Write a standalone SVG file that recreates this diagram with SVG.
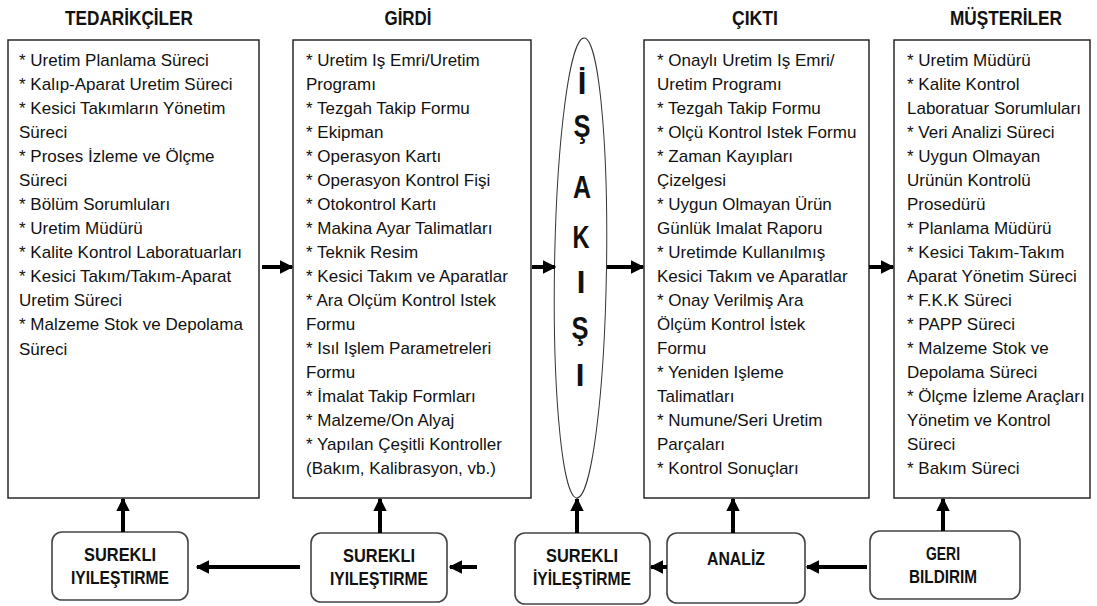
<svg xmlns="http://www.w3.org/2000/svg" width="1097" height="606" viewBox="0 0 1097 606">
  <defs>
    <style>
      .hdr { font-family: "Liberation Sans", Arial, sans-serif; font-weight: bold; font-size: 21px; fill: #111; text-anchor: middle; }
      .box { fill: #fff; stroke: #1a1a1a; stroke-width: 1.4; }
      .item { font-family: "Liberation Sans", Arial, sans-serif; font-size: 17px; fill: #111; }
      .flow { font-family: "Liberation Sans", Arial, sans-serif; font-weight: bold; font-size: 31px; fill: #111; text-anchor: middle; }
      .step { fill: #fff; stroke: #444; stroke-width: 1.6; }
      .stepText { font-family: "Liberation Sans", Arial, sans-serif; font-weight: bold; font-size: 18px; fill: #111; text-anchor: middle; }
      .link { stroke: #000; stroke-width: 4; fill: none; marker-end: url(#head); }
    </style>
    <marker id="head" viewBox="0 0 10 10" refX="9" refY="5" markerWidth="3.4" markerHeight="3.4" orient="auto" markerUnits="strokeWidth">
      <path d="M0,0 L10,5 L0,10 Z" fill="#000"/>
    </marker>
  </defs>

  <rect width="1097" height="606" fill="#fff"/>

  <!-- column headings -->
  <text class="hdr" x="129" y="25" textLength="128" lengthAdjust="spacingAndGlyphs">TEDARİKÇİLER</text>
  <text class="hdr" x="408" y="25" textLength="47" lengthAdjust="spacingAndGlyphs">GİRDİ</text>
  <text class="hdr" x="755" y="25" textLength="46" lengthAdjust="spacingAndGlyphs">ÇIKTI</text>
  <text class="hdr" x="1006" y="25" textLength="112" lengthAdjust="spacingAndGlyphs">MÜŞTERİLER</text>

  <!-- suppliers -->
  <g id="tedarikciler">
    <rect class="box" x="8" y="40" width="251" height="458"/>
    <text class="item">
      <tspan x="19" y="66">* Uretim Planlama Süreci</tspan>
      <tspan x="19" y="90">* Kalıp-Aparat Uretim Süreci</tspan>
      <tspan x="19" y="114">* Kesici Takımların Yönetim</tspan>
      <tspan x="19" y="138">Süreci</tspan>
      <tspan x="19" y="162">* Proses İzleme ve Ölçme</tspan>
      <tspan x="19" y="186">Süreci</tspan>
      <tspan x="19" y="210">* Bölüm Sorumluları</tspan>
      <tspan x="19" y="234">* Uretim Müdürü</tspan>
      <tspan x="19" y="258">* Kalite Kontrol Laboratuarları</tspan>
      <tspan x="19" y="282">* Kesici Takım/Takım-Aparat</tspan>
      <tspan x="19" y="306">Uretim Süreci</tspan>
      <tspan x="19" y="330">* Malzeme Stok ve Depolama</tspan>
      <tspan x="19" y="355">Süreci</tspan>
    </text>
  </g>

  <!-- inputs -->
  <g id="girdi">
    <rect class="box" x="293" y="40" width="238" height="458"/>
    <text class="item">
      <tspan x="306" y="66">* Uretim Iş Emri/Uretim</tspan>
      <tspan x="306" y="90">Programı</tspan>
      <tspan x="306" y="114">* Tezgah Takip Formu</tspan>
      <tspan x="306" y="138">* Ekipman</tspan>
      <tspan x="306" y="162">* Operasyon Kartı</tspan>
      <tspan x="306" y="186">* Operasyon Kontrol Fişi</tspan>
      <tspan x="306" y="210">* Otokontrol Kartı</tspan>
      <tspan x="306" y="234">* Makina Ayar Talimatları</tspan>
      <tspan x="306" y="258">* Teknik Resim</tspan>
      <tspan x="306" y="282">* Kesici Takım ve Aparatlar</tspan>
      <tspan x="306" y="306">* Ara Olçüm Kontrol Istek</tspan>
      <tspan x="306" y="330">Formu</tspan>
      <tspan x="306" y="354">* Isıl Işlem Parametreleri</tspan>
      <tspan x="306" y="378">Formu</tspan>
      <tspan x="306" y="402">* İmalat Takip Formları</tspan>
      <tspan x="306" y="426">* Malzeme/On Alyaj</tspan>
      <tspan x="306" y="450">* Yapılan Çeşitli Kontroller</tspan>
      <tspan x="306" y="474">(Bakım, Kalibrasyon, vb.)</tspan>
    </text>
  </g>

  <!-- work flow -->
  <g id="is-akisi">
    <ellipse cx="580.5" cy="268" rx="26" ry="230" fill="#fff" stroke="#333" stroke-width="1" transform="rotate(0.9 580.5 268)"/>
    <text class="flow" x="582" y="94">İ</text>
    <text class="flow" x="582" y="137" textLength="17" lengthAdjust="spacingAndGlyphs">Ş</text>
    <text class="flow" x="582" y="198" textLength="18" lengthAdjust="spacingAndGlyphs">A</text>
    <text class="flow" x="581" y="248" textLength="17" lengthAdjust="spacingAndGlyphs">K</text>
    <text class="flow" x="581" y="293">I</text>
    <text class="flow" x="580" y="339" textLength="17" lengthAdjust="spacingAndGlyphs">Ş</text>
    <text class="flow" x="580" y="386">I</text>
  </g>

  <!-- outputs -->
  <g id="cikti">
    <rect class="box" x="644" y="40" width="225" height="458"/>
    <text class="item">
      <tspan x="657" y="66">* Onaylı Uretim Iş Emri/</tspan>
      <tspan x="657" y="90">Uretim Programı</tspan>
      <tspan x="657" y="114">* Tezgah Takip Formu</tspan>
      <tspan x="657" y="138">* Olçü Kontrol Istek Formu</tspan>
      <tspan x="657" y="162">* Zaman Kayıpları</tspan>
      <tspan x="657" y="186">Çizelgesi</tspan>
      <tspan x="657" y="210">* Uygun Olmayan Ürün</tspan>
      <tspan x="657" y="234">Günlük Imalat Raporu</tspan>
      <tspan x="657" y="258">* Uretimde Kullanılmış</tspan>
      <tspan x="657" y="282">Kesici Takım ve Aparatlar</tspan>
      <tspan x="657" y="306">* Onay Verilmiş Ara</tspan>
      <tspan x="657" y="330">Ölçüm Kontrol İstek</tspan>
      <tspan x="657" y="354">Formu</tspan>
      <tspan x="657" y="378">* Yeniden Işleme</tspan>
      <tspan x="657" y="402">Talimatları</tspan>
      <tspan x="657" y="426">* Numune/Seri Uretim</tspan>
      <tspan x="657" y="450">Parçaları</tspan>
      <tspan x="657" y="474">* Kontrol Sonuçları</tspan>
    </text>
  </g>

  <!-- customers -->
  <g id="musteriler">
    <rect class="box" x="894" y="40" width="196" height="458"/>
    <text class="item">
      <tspan x="907" y="66">* Uretim Müdürü</tspan>
      <tspan x="907" y="90">* Kalite Kontrol</tspan>
      <tspan x="907" y="114">Laboratuar Sorumluları</tspan>
      <tspan x="907" y="138">* Veri Analizi Süreci</tspan>
      <tspan x="907" y="162">* Uygun Olmayan</tspan>
      <tspan x="907" y="186">Urünün Kontrolü</tspan>
      <tspan x="907" y="210">Prosedürü</tspan>
      <tspan x="907" y="234">* Planlama Müdürü</tspan>
      <tspan x="907" y="258">* Kesici Takım-Takım</tspan>
      <tspan x="907" y="282">Aparat Yönetim Süreci</tspan>
      <tspan x="907" y="306">* F.K.K Süreci</tspan>
      <tspan x="907" y="330">* PAPP Süreci</tspan>
      <tspan x="907" y="354">* Malzeme Stok ve</tspan>
      <tspan x="907" y="378">Depolama Süreci</tspan>
      <tspan x="907" y="402">* Ölçme İzleme Araçları</tspan>
      <tspan x="907" y="426">Yönetim ve Kontrol</tspan>
      <tspan x="907" y="450">Süreci</tspan>
      <tspan x="907" y="474">* Bakım Süreci</tspan>
    </text>
  </g>

  <!-- feedback loop steps -->
  <g id="surekli-iyilestirme-1">
    <rect class="step" x="52" y="532" width="136" height="68" rx="10"/>
    <text class="stepText" x="120" y="561" textLength="72" lengthAdjust="spacingAndGlyphs">SUREKLI</text>
    <text class="stepText" x="120" y="584" textLength="98" lengthAdjust="spacingAndGlyphs">IYILEŞTIRME</text>
  </g>
  <g id="surekli-iyilestirme-2">
    <rect class="step" x="311" y="533" width="136" height="69" rx="10"/>
    <text class="stepText" x="379" y="562" textLength="72" lengthAdjust="spacingAndGlyphs">SUREKLI</text>
    <text class="stepText" x="379" y="585" textLength="98" lengthAdjust="spacingAndGlyphs">IYILEŞTIRME</text>
  </g>
  <g id="surekli-iyilestirme-3">
    <rect class="step" x="515" y="533" width="135" height="71" rx="10"/>
    <text class="stepText" x="582" y="562" textLength="72" lengthAdjust="spacingAndGlyphs">SUREKLI</text>
    <text class="stepText" x="582" y="585" textLength="98" lengthAdjust="spacingAndGlyphs">İYİLEŞTİRME</text>
  </g>
  <g id="analiz">
    <rect class="step" x="667" y="533" width="138" height="70" rx="10"/>
    <text class="stepText" x="736" y="565" textLength="58" lengthAdjust="spacingAndGlyphs">ANALİZ</text>
  </g>
  <g id="geri-bildirim">
    <rect class="step" x="870" y="531" width="150" height="68" rx="10"/>
    <text class="stepText" x="943" y="560" textLength="34" lengthAdjust="spacingAndGlyphs">GERI</text>
    <text class="stepText" x="943" y="583" textLength="68" lengthAdjust="spacingAndGlyphs">BILDIRIM</text>
  </g>

  <!-- connectors -->
  <g id="connectors">
    <line class="link" x1="262" y1="267" x2="292" y2="267"/>
    <line class="link" x1="532" y1="267" x2="555" y2="267"/>
    <line class="link" x1="607" y1="267" x2="643" y2="267"/>
    <line class="link" x1="869" y1="267" x2="893" y2="267"/>

    <line class="link" x1="123" y1="532" x2="123" y2="499"/>
    <line class="link" x1="380" y1="533" x2="380" y2="499"/>
    <line class="link" x1="577" y1="533" x2="577" y2="499"/>
    <line class="link" x1="733" y1="533" x2="733" y2="499"/>
    <line class="link" x1="943" y1="531" x2="943" y2="499"/>

    <line class="link" x1="300" y1="567" x2="197" y2="567"/>
    <line class="link" x1="477" y1="567" x2="450" y2="567"/>
    <line class="link" x1="667" y1="567" x2="651" y2="567"/>
    <line class="link" x1="867" y1="567" x2="807" y2="567"/>
  </g>
</svg>
